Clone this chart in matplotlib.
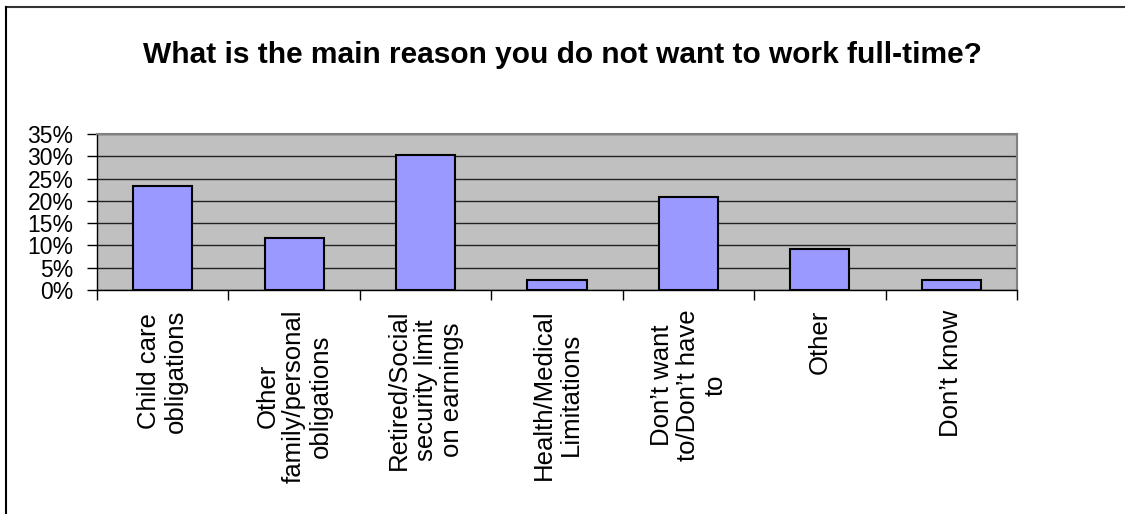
import numpy as np
import matplotlib
matplotlib.use("Agg")
import matplotlib.pyplot as plt
from matplotlib.lines import Line2D
from matplotlib.ticker import FixedLocator, PercentFormatter

categories = [
    "Child care\nobligations",
    "Other\nfamily/personal\nobligations",
    "Retired/Social\nsecurity limit\non earnings",
    "Health/Medical\nLimitations",
    "Don\u2019t want\nto/Don\u2019t have\nto",
    "Other",
    "Don\u2019t know",
]
shares = [23.4, 11.6, 30.4, 2.2, 20.9, 9.3, 2.2]
y_ticks = [0, 5, 10, 15, 20, 25, 30, 35]

plt.rcParams['font.family'] = ['Liberation Sans', 'DejaVu Sans']

fig = plt.figure(figsize=(11.25, 5.14), dpi=100)
ax = fig.add_axes([0.0862, 0.4358, 0.8178, 0.3035])

x = np.arange(len(categories))
ax.bar(x, shares, width=0.45, color='#9999FF', edgecolor='black', linewidth=1.5, zorder=3)

ax.set_facecolor('#C0C0C0')
ax.set_xlim(-0.5, len(categories) - 0.5)
ax.set_ylim(0, 35)
ax.set_yticks(y_ticks)
ax.yaxis.set_major_formatter(PercentFormatter(decimals=0))
ax.grid(True, axis='y', color='#222222', linewidth=1, zorder=1)
ax.tick_params(axis='y', direction='out', length=7, width=1, labelsize=16.5, pad=10)

ax.set_xticks(x)
ax.set_xticklabels(categories, rotation=90, fontsize=18.5, multialignment='center',
                   linespacing=1.15)
ax.tick_params(axis='x', which='major', length=0, pad=14)
ax.xaxis.set_minor_locator(FixedLocator(np.arange(-0.5, len(categories), 1.0)))
ax.tick_params(axis='x', which='minor', direction='out', length=7, width=1)

for side in ['top', 'right']:
    ax.spines[side].set_color('#808080')
    ax.spines[side].set_linewidth(1.5)
for side in ['left', 'bottom']:
    ax.spines[side].set_color('black')
    ax.spines[side].set_linewidth(1)

fig.text(0.5, 0.893, "What is the main reason you do not want to work full-time?",
         ha='center', va='center', fontsize=21.5, fontweight='bold')

# chart area border (top and left edges visible)
fig.add_artist(Line2D([6 / 1125, 1], [1 - 7 / 514, 1 - 7 / 514], color='#333333', linewidth=1.5))
fig.add_artist(Line2D([6 / 1125, 6 / 1125], [0, 1 - 7 / 514], color='black', linewidth=1.5))

fig.savefig("out.png", dpi=100)
